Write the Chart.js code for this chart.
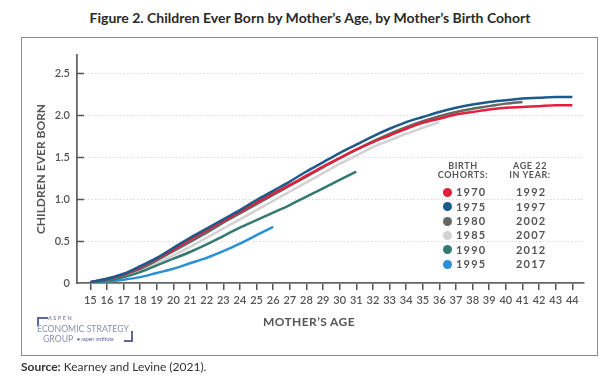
<!DOCTYPE html>
<html>
<head>
<meta charset="utf-8">
<script src="https://cdn.jsdelivr.net/npm/chart.js@4.4.0/dist/chart.umd.min.js"></script>
<style>
  html, body { margin: 0; padding: 0; background: #fff; }
  #wrap { position: relative; width: 612px; height: 383px; overflow: hidden; font-family: Lato, "Open Sans", sans-serif; }
  #c { position: absolute; left: 0; top: 0; }
  #frame { position: absolute; left: 21px; top: 37px; width: 575px; height: 317px; border: 1.5px solid #8a8a8a; }
  #title { position: absolute; left: 0; width: 620px; top: 9px; text-align: center; font-weight: 700; font-size: 14px; color: #2a2a2a; }
  #xtitle { position: absolute; left: 209px; width: 200px; top: 314px; text-align: center; font-weight: 700; font-size: 12px; letter-spacing: 0.4px; color: #555; }
  #source { position: absolute; left: 21px; top: 359px; font-size: 12px; color: #333; }
  #source b { font-weight: 700; }
  .lg { position: absolute; color: #555; font-weight: 700; white-space: nowrap; }
  .hdr { font-size: 9px; letter-spacing: 0.6px; line-height: 9px; text-align: center; width: 80px; }
  .yr { font-size: 11px; letter-spacing: 1.2px; line-height: 12px; }
  .dot { position: absolute; width: 9px; height: 9px; border-radius: 50%; }
  #logo .t { position: absolute; color: #8891ad; white-space: nowrap; }
  #logo .br { position: absolute; border-color: #5b6797; border-style: solid; }
</style>
</head>
<body>
<div id="wrap">
  <div id="title">Figure 2. Children Ever Born by Mother’s Age, by Mother’s Birth Cohort</div>
  <div id="frame"></div>
  <canvas id="c" width="612" height="383"></canvas>
  <div id="legend"></div>
  <div id="xtitle">MOTHER’S AGE</div>
  <div id="logo">
    <div class="br" style="left:37px;top:317px;width:9px;height:7px;border-width:2px 0 0 2px;"></div>
    <div class="t" style="left:48px;top:315px;font-size:5.5px;letter-spacing:1.5px;font-weight:700;">ASPEN</div>
    <div class="t" style="left:37px;top:323px;font-size:8.7px;letter-spacing:0px;">ECONOMIC STRATEGY</div>
    <div class="t" style="left:43px;top:333px;font-size:8.7px;">GROUP</div>
    <div class="t" style="left:77px;top:336px;font-size:5px;color:#5b6797;">&#9679; aspen institute</div>
    <div class="br" style="left:124px;top:331px;width:7px;height:9px;border-width:0 2px 2px 0;"></div>
  </div>
  <div id="source"><b>Source:</b> Kearney and Levine (2021).</div>
</div>
<script>
// ---- data ----
const ages = [15,16,17,18,19,20,21,22,23,24,25,26,27,28,29,30,31,32,33,34,35,36,37,38,39,40,41,42,43,44];
const cohorts = ["1970","1975","1980","1985","1990","1995"];
const age22Years = ["1992","1997","2002","2007","2012","2017"];
const colors = ["#e3203b","#1c5a8c","#666666","#d2d2d2","#347a72","#2a8fd6"];
const c1970 = [0.01,0.05,0.10,0.19,0.29,0.40,0.52,0.63,0.74,0.85,0.96,1.07,1.17,1.28,1.39,1.49,1.59,1.68,1.76,1.84,1.91,1.96,2.01,2.04,2.07,2.09,2.10,2.11,2.12,2.12];
const c1975 = [0.01,0.05,0.11,0.20,0.30,0.42,0.54,0.65,0.76,0.87,0.99,1.10,1.21,1.33,1.44,1.55,1.65,1.75,1.84,1.92,1.98,2.04,2.09,2.13,2.16,2.18,2.20,2.21,2.22,2.22];
const c1980 = [0.01,0.04,0.10,0.17,0.27,0.38,0.49,0.60,0.72,0.83,0.94,1.05,1.16,1.27,1.38,1.49,1.59,1.69,1.78,1.86,1.93,1.99,2.04,2.08,2.11,2.14,2.16];
const c1985 = [0.01,0.04,0.09,0.16,0.24,0.33,0.43,0.54,0.65,0.76,0.87,0.98,1.09,1.20,1.31,1.42,1.52,1.62,1.70,1.78,1.85,1.92];
const c1990 = [0.01,0.03,0.07,0.13,0.21,0.29,0.37,0.46,0.56,0.66,0.75,0.84,0.93,1.03,1.13,1.23,1.33];
const c1995 = [0.01,0.02,0.04,0.07,0.12,0.17,0.235,0.30,0.38,0.47,0.57,0.67];
const yTickLabels = ["0","0.5","1.0","1.5","2.0","2.5"];
const xTickLabels = ages.map(String);
const series = [c1970, c1975, c1980, c1985, c1990, c1995];
// draw order (higher = drawn first / underneath)
const drawOrder = [2, 1, 3, 5, 4, 6];

const datasets = series.map((vals, i) => ({
  label: cohorts[i],
  data: vals.map((v, k) => ({ x: ages[k], y: v })),
  borderColor: colors[i],
  backgroundColor: colors[i],
  borderWidth: 2.5,
  pointRadius: 0,
  fill: false,
  cubicInterpolationMode: 'monotone',
  order: drawOrder[i]
}));

// legend (HTML overlay)
const lg = document.getElementById('legend');
function add(html, cls, style) { const d = document.createElement('div'); d.className = cls; d.setAttribute('style', style); d.innerHTML = html; lg.appendChild(d); }
add('BIRTH<br>COHORTS:', 'lg hdr', 'left:423px;top:161px;');
add('AGE 22<br>IN YEAR:', 'lg hdr', 'left:490px;top:161px;');
const rowY = [186, 200.5, 215, 229, 243.5, 258];
cohorts.forEach((c, i) => {
  add('', 'dot', `left:443px;top:${rowY[i]+1.5}px;background:${colors[i]};`);
  add(c, 'lg yr', `left:456px;top:${rowY[i]}px;`);
  add(age22Years[i], 'lg yr', `left:516px;top:${rowY[i]}px;`);
});

const innerTicks = {
  id: 'innerTicks',
  beforeDatasetsDraw(chart) {
    const y = chart.scales.y, ctx = chart.ctx;
    ctx.save();
    ctx.strokeStyle = '#555';
    ctx.lineWidth = 1.5;
    y.ticks.forEach(t => {
      if (t.value === 0) return;
      const py = Math.round(y.getPixelForValue(t.value)) + 0.5;
      ctx.beginPath();
      ctx.moveTo(chart.chartArea.left, py);
      ctx.lineTo(chart.chartArea.left + 7, py);
      ctx.stroke();
    });
    ctx.restore();
  }
};

new Chart(document.getElementById('c'), {
  type: 'line',
  data: { datasets },
  plugins: [innerTicks],
  options: {
    responsive: false,
    animation: false,
    events: [],
    layout: { padding: { left: 21, right: 28, top: 55, bottom: 50 } },
    plugins: { legend: { display: false }, tooltip: { enabled: false }, title: { display: false } },
    scales: {
      x: {
        type: 'linear',
        min: 14.2, max: 44.7,
        afterFit: s => { s.height = 50; },
        ticks: {
          stepSize: 1, includeBounds: false, autoSkip: false, maxRotation: 0,
          padding: 4, color: '#555',
          font: { family: 'Lato', size: 11, weight: '600' },
          callback: (v) => { const i = ages.indexOf(v); return i >= 0 ? xTickLabels[i] : ''; }
        },
        grid: { drawOnChartArea: false, drawTicks: true, tickLength: 7, color: '#555', lineWidth: 1.5 },
        border: { display: true, color: '#666', width: 1.8 },
        title: { display: false }
      },
      y: {
        min: 0, max: 2.72,
        afterFit: s => { s.width = 56; },
        ticks: {
          stepSize: 0.5, includeBounds: false, padding: 7, color: '#555',
          font: { family: 'Lato', size: 11, weight: '600' },
          callback: (v) => { const i = Math.round(v / 0.5); return Math.abs(v - i * 0.5) < 1e-6 ? yTickLabels[i] : ''; }
        },
        grid: {
          drawTicks: false,
          color: ctx => (ctx.tick && ctx.tick.value === 0) ? 'rgba(0,0,0,0)' : '#c8c8c8',
          lineWidth: 1
        },
        border: { display: true, color: '#666', width: 1.8, dash: [1, 2.5] },
        title: { display: true, text: 'CHILDREN EVER BORN', color: '#555', font: { family: 'Lato', size: 12, weight: '700' }, padding: { top: 13, bottom: 0 } }
      }
    }
  }
});
</script>
</body>
</html>
